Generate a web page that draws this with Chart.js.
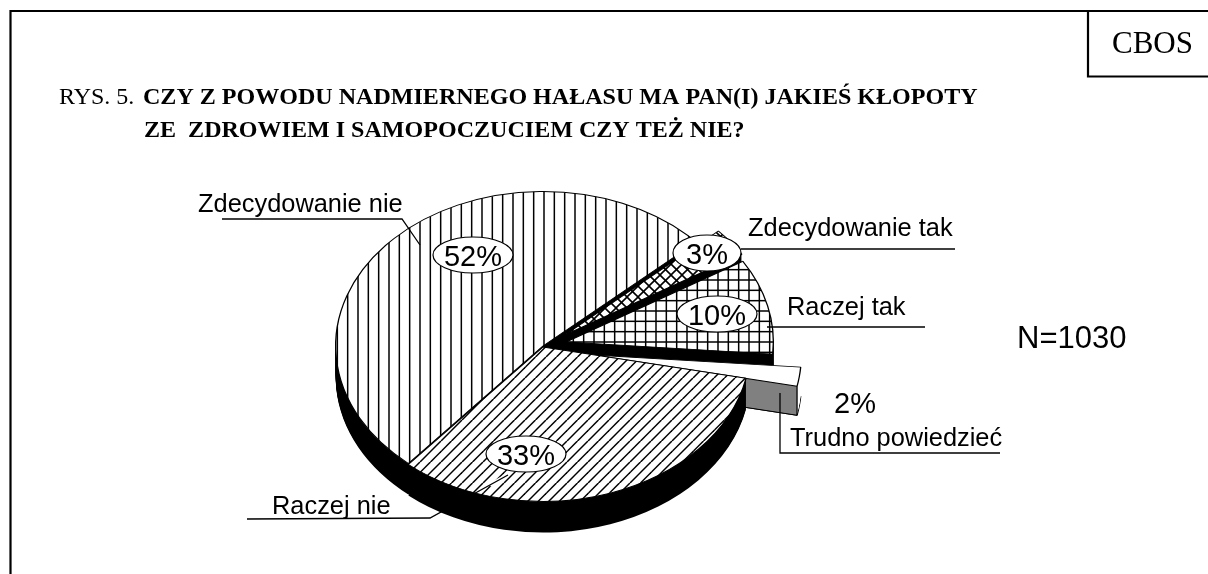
<!DOCTYPE html>
<html lang="pl">
<head>
<meta charset="utf-8">
<style>html,body{margin:0;padding:0;background:#fff}canvas{display:block}</style>
<script src="https://cdn.jsdelivr.net/npm/chart.js@4"></script>
</head>
<body>
<canvas id="c" width="1208" height="574"></canvas>
<script>
// ---- data ----
const categories = ["Zdecydowanie nie", "Zdecydowanie tak", "Raczej tak", "Trudno powiedzieć", "Raczej nie"];
const percentages = [52, 3, 10, 2, 33];
const sampleLabel = "N=1030";
const sourceLabel = "CBOS";
const titlePrefix = "RYS. 5. ";
const titleLine1 = "CZY Z POWODU NADMIERNEGO HAŁASU MA PAN(I) JAKIEŚ KŁOPOTY";
const titleLine2 = "ZE  ZDROWIEM I SAMOPOCZUCIEM CZY TEŻ NIE?";

// ---- look ----
const SQUASH = 155 / 208;      // tilt of the pie
const ROT = 220.5;             // first slice start
const SERIF = '"Liberation Serif"', SANS = '"Liberation Sans"';
const shifts = [[0,0],[22,-11],[23,-4],[51,9],[0,1]];
const depths = [31,31,31,29,31];
const bubbles = [[473,255,40,18],[707,253,34,18],[717,314,40,18],[526,454,40,18]];
const bubbleOf = [0,1,2,null,3];
const captions = [[198,212],[748,236],[787,315],[790,446],[272,514]];
const leaders = [
  [[222,219],[402,219],[420,245]],
  [[741,249],[955,249]],
  [[767,327],[925,327]],
  [[780,393],[780,453],[1000,453]],
  [[247,519],[430,518],[508,475]]
];

function tile(w, h, draw) {
  const t = document.createElement('canvas'); t.width = w; t.height = h;
  const g = t.getContext('2d'); g.fillStyle = '#fff'; g.fillRect(0,0,w,h);
  g.strokeStyle = '#000'; g.lineCap = 'butt'; draw(g, w, h);
  return document.createElement('canvas').getContext('2d').createPattern(t,'repeat');
}
function seg(g, x1, y1, x2, y2) { g.beginPath(); g.moveTo(x1,y1); g.lineTo(x2,y2); g.stroke(); }
const pats = [
  tile(31,31,g=>{g.lineWidth=1.5;[6.67,17,27.33].forEach(x=>seg(g,x,0,x,31));}),
  tile(11,11,g=>{g.lineWidth=1.6;for(let i=-11;i<=22;i+=11){seg(g,i,0,i+11,11);seg(g,i+11,0,i,11);}}),
  tile(31,31,g=>{g.lineWidth=1.5;[5,15.33,25.67].forEach(x=>seg(g,x,0,x,31));[1,11.33,21.67].forEach(y=>seg(g,0,y,31,y));}),
  tile(4,4,()=>{}),
  tile(21,21,g=>{g.lineWidth=1.5;for(let i=-21;i<=42;i+=10.5){seg(g,i,21,i+21,0);}})
];
const wallColors = ['#000','#000','#000','#808080','#000'];

function withOpts(el, over, fn) {
  const base = el.options;
  el.options = Object.assign({}, base, over);
  fn();
  el.options = base;
}
const pie3d = {
  id: 'pie3d',
  beforeDatasetDraw(chart) {
    const ctx = chart.ctx, arcs = chart.getDatasetMeta(0).data;
    const cx = arcs[0].x, cy = arcs[0].y;
    const frame = (i, z) => {
      ctx.translate(cx + shifts[i][0], cy + shifts[i][1] + z);
      ctx.scale(1, SQUASH);
      ctx.translate(-cx, -cy);
    };
    arcs.forEach((el, i) => {
      const D = depths[i], R = el.outerRadius;
      const a = el.endAngle;
      const cornerX = cx + shifts[i][0] + R*Math.cos(a);
      const cornerY = cy + shifts[i][1] + R*SQUASH*Math.sin(a);
      if (i === 3) { // open tip: white outer wall, grey flat wall
        for (let z = D; z > 0; z--) {
          ctx.save(); frame(i, z);
          withOpts(el, {backgroundColor:'#fff', borderWidth: z===D?1.3:0, borderColor:'#000'}, () => el.draw(ctx));
          ctx.restore();
        }
        ctx.save();
        ctx.beginPath(); ctx.rect(0,0,cornerX,574); ctx.clip();
        for (let z = D; z > 0; z--) {
          ctx.save(); frame(i, z);
          withOpts(el, {backgroundColor:wallColors[i], borderWidth: z===D?1.3:0, borderColor:'#000'}, () => el.draw(ctx));
          ctx.restore();
        }
        ctx.restore();
      } else {
        for (let z = D; z > 0; z--) {
          ctx.save(); frame(i, z);
          withOpts(el, {backgroundColor:wallColors[i], borderColor:wallColors[i], borderWidth:0}, () => el.draw(ctx));
          ctx.restore();
        }
      }
      // top face: hatch stays aligned with the screen pixels
      ctx.save(); frame(i, 0);
      pats[i].setTransform(ctx.getTransform().inverse());
      el.draw(ctx);
      ctx.restore();
      if (i === 3) {
        ctx.strokeStyle='#000'; ctx.lineWidth=1.3; ctx.beginPath();
        ctx.moveTo(cornerX,cornerY); ctx.lineTo(cornerX,cornerY+D); ctx.stroke();
      }
    });
    return false;
  },
  afterDatasetsDraw(chart) {
    const ctx = chart.ctx;
    ctx.save();
    ctx.textBaseline = 'alphabetic'; ctx.fillStyle = '#000'; ctx.textAlign='left';
    // frame
    ctx.strokeStyle='#000'; ctx.lineWidth=2.2;
    ctx.beginPath(); ctx.moveTo(10.5,574); ctx.lineTo(10.5,11); ctx.lineTo(1208,11); ctx.stroke();
    ctx.beginPath(); ctx.moveTo(1088,11); ctx.lineTo(1088,76.5); ctx.lineTo(1208,76.5); ctx.stroke();
    ctx.font = '31px '+SERIF; ctx.fillText(sourceLabel,1112,53);
    // title
    ctx.font = '24px '+SERIF; ctx.fillText(titlePrefix,59,104);
    ctx.font = 'bold 24.05px '+SERIF; ctx.fillText(titleLine1,143,104); ctx.fillText(titleLine2,144,137);
    // leaders
    leaders.forEach((pts,i)=>{
      if (i===4) {
        ctx.strokeStyle='#fff'; ctx.lineWidth=4; ctx.beginPath();
        ctx.moveTo(490,485); ctx.lineTo(pts[2][0],pts[2][1]); ctx.stroke();
      }
      ctx.strokeStyle='#000'; ctx.lineWidth=1.3; ctx.beginPath();
      pts.forEach((p,j)=> j?ctx.lineTo(p[0],p[1]):ctx.moveTo(p[0],p[1])); ctx.stroke();
    });
    // percent bubbles
    percentages.forEach((v,i)=>{
      const b = bubbleOf[i];
      if (b===null) return;
      const [x,y,rx,ry]=bubbles[b];
      ctx.fillStyle='#fff'; ctx.strokeStyle='#000'; ctx.lineWidth=1.2;
      ctx.beginPath(); ctx.ellipse(x,y,rx,ry,0,0,Math.PI*2); ctx.fill(); ctx.stroke();
      ctx.fillStyle='#000'; ctx.font='29px '+SANS; ctx.textAlign='center';
      ctx.fillText(v+'%',x,y+10.5);
      ctx.textAlign='left';
    });
    ctx.font='29px '+SANS; ctx.textAlign='center'; ctx.fillText(percentages[3]+'%',855,413); ctx.textAlign='left';
    // captions
    ctx.font='25.4px '+SANS;
    categories.forEach((c,i)=>ctx.fillText(c,captions[i][0],captions[i][1]));
    ctx.font='31px '+SANS; ctx.fillText(sampleLabel,1017,348);
    ctx.restore();
  }
};

new Chart(document.getElementById('c'), {
  type: 'pie',
  data: { labels: categories, datasets: [{
    data: percentages,
    backgroundColor: pats,
    borderColor: '#000', borderWidth: 1.3, hoverOffset: 0
  }]},
  options: {
    responsive:false, animation:false, rotation: ROT,
    layout:{padding:{left:335,right:457,top:137,bottom:19}},
    plugins:{legend:{display:false},tooltip:{enabled:false},title:{display:false}}
  },
  plugins:[pie3d]
});
</script>
</body>
</html>
